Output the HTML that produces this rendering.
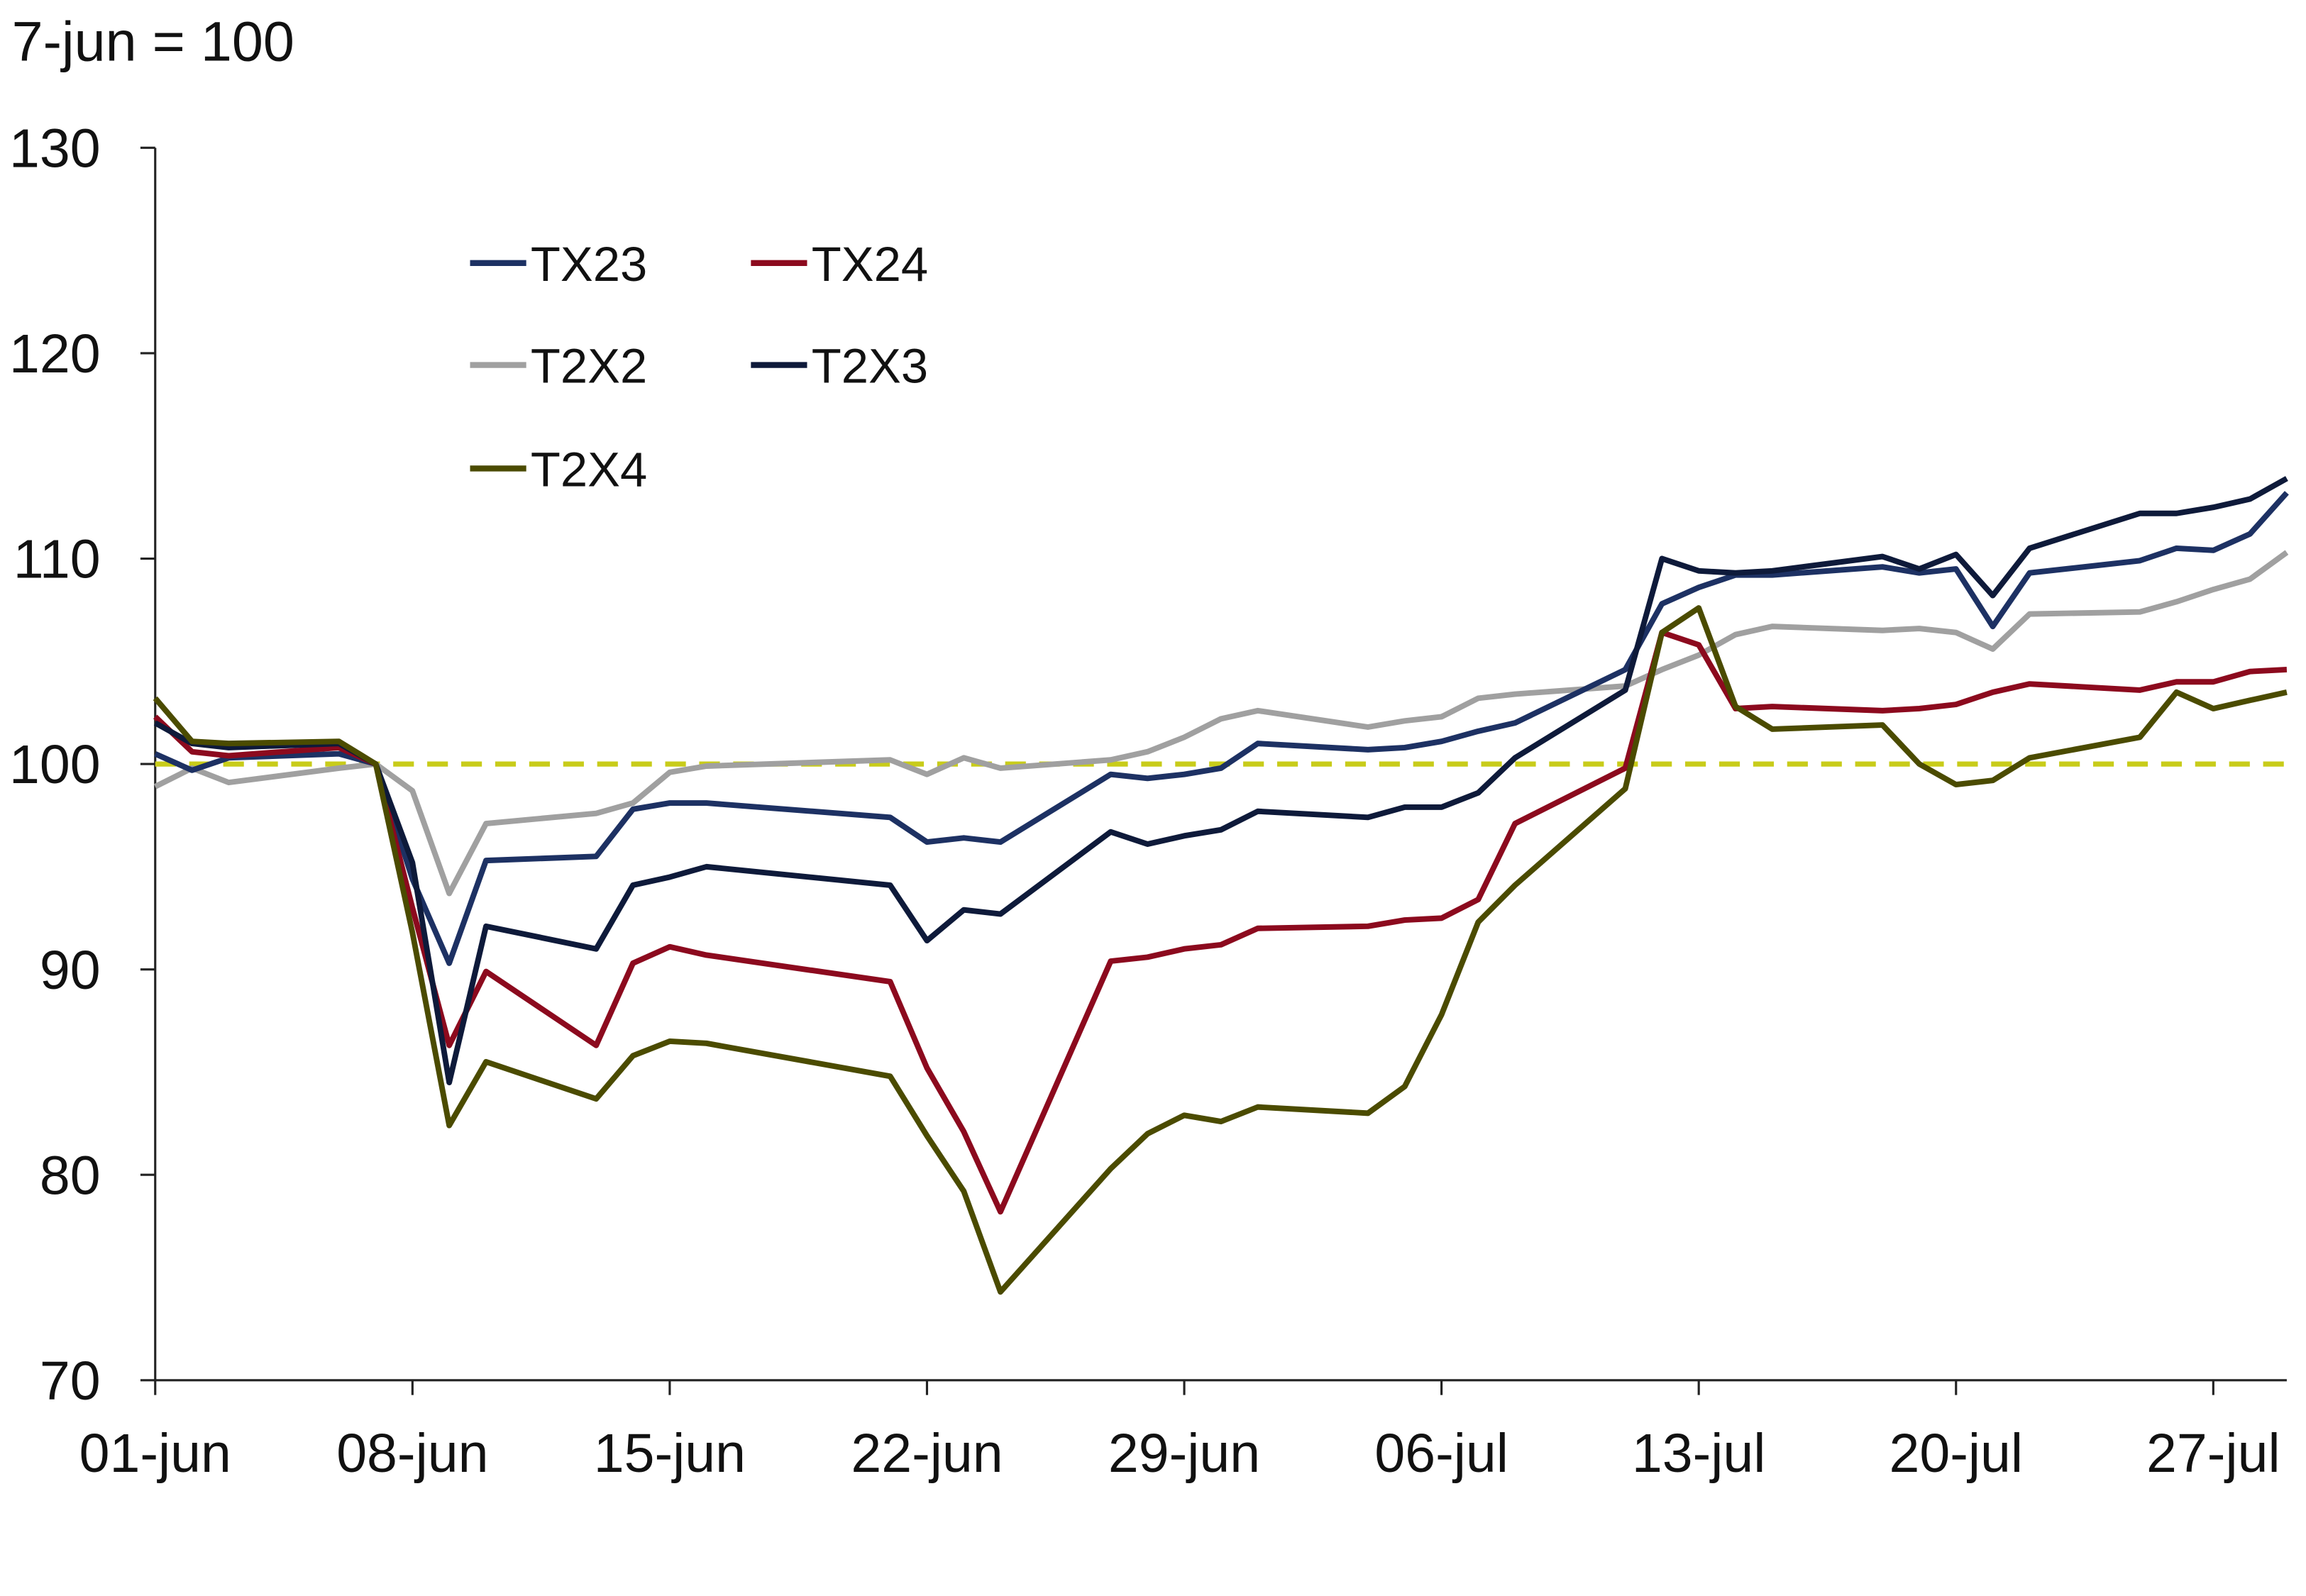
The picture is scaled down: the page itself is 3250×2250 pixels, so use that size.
<!DOCTYPE html>
<html><head><meta charset="utf-8"><style>
html,body{margin:0;padding:0;background:#fff;}
svg{display:block;}
text{font-family:"Liberation Sans",sans-serif;fill:#111;}
</style></head><body>
<svg id="chart" width="3250" height="2250" viewBox="0 0 1560 1080" xmlns="http://www.w3.org/2000/svg">
<rect width="1560" height="1080" fill="#fff"/>
<text x="8" y="41" font-size="38">7-jun = 100</text>
<g id="axes"></g>
<g id="series"></g>
<g id="legend"></g>
</svg>
<script>
const dayOffsets=[0,1,2,5,6,7,8,9,12,13,14,15,20,21,22,23,26,27,28,29,30,33,34,35,36,37,40,41,42,43,44,47,48,49,50,51,54,55,56,57,58];
const yTicks=[70,80,90,100,110,120,130];
const xTickDays=[0,7,14,21,28,35,42,49,56];
const xTickLabels=["01-jun","08-jun","15-jun","22-jun","29-jun","06-jul","13-jul","20-jul","27-jul"];
const seriesNames=["TX23","TX24","T2X2","T2X3","T2X4"];
const tx23=[100.5,99.7,100.3,100.5,100,94.4,90.3,95.3,95.5,97.8,98.1,98.1,97.4,96.2,96.4,96.2,99.5,99.3,99.5,99.8,101,100.7,100.8,101.1,101.6,102,104.6,107.8,108.6,109.2,109.2,109.6,109.3,109.5,106.7,109.3,109.9,110.5,110.4,111.2,113.2];
const tx24=[102.3,100.6,100.4,100.8,100,93,86.3,89.9,86.3,90.3,91.1,90.7,89.4,85.2,82.1,78.2,90.4,90.6,91,91.2,92,92.1,92.4,92.5,93.4,97.1,99.8,106.4,105.8,102.7,102.8,102.6,102.7,102.9,103.5,103.9,103.6,104,104,104.5,104.6];
const t2x2=[98.9,99.8,99.1,99.8,100,98.7,93.7,97.1,97.6,98.1,99.6,99.9,100.2,99.5,100.3,99.8,100.2,100.6,101.3,102.2,102.6,101.8,102.1,102.3,103.2,103.4,103.8,104.6,105.3,106.3,106.7,106.5,106.6,106.4,105.6,107.3,107.4,107.9,108.5,109,110.3];
const t2x3=[102,101,100.8,101,100,95.2,84.5,92.1,91,94.1,94.5,95,94.1,91.4,92.9,92.7,96.7,96.1,96.5,96.8,97.7,97.4,97.9,97.9,98.6,100.3,103.6,110,109.4,109.3,109.4,110.1,109.5,110.2,108.2,110.5,112.2,112.2,112.5,112.9,113.9];
const t2x4=[103.2,101.1,101,101.1,100,91.8,82.4,85.5,83.7,85.8,86.5,86.4,84.8,81.9,79.2,74.3,80.3,82,82.9,82.6,83.3,83,84.3,87.8,92.3,94.1,98.8,106.4,107.6,102.8,101.7,101.9,100,99,99.2,100.3,101.3,103.5,102.7,103.1,103.5];
const refValue=100;

const NS="http://www.w3.org/2000/svg";
const X0=105,X1=1547,Y0=934,Y1=100,DMAX=58,VMIN=70,VMAX=130;
function xs(d){return X0+(X1-X0)*d/DMAX;}
function ys(v){return Y0-(Y0-Y1)*(v-VMIN)/(VMAX-VMIN);}
function mk(tag,attrs,parent){const e=document.createElementNS(NS,tag);for(const k in attrs)e.setAttribute(k,attrs[k]);parent.appendChild(e);return e;}
const axes=document.getElementById('axes');
let yAxis=mk('line',{x1:X0,y1:Y1,x2:X0,y2:Y0,stroke:'#222','stroke-width':1.5},axes);


let xAxis=mk('line',{x1:X0,y1:Y0,x2:X1,y2:Y0,stroke:'#222','stroke-width':1.5},axes);


yTicks.forEach(v=>{
  const t=mk('line',{x1:X0-10,y1:ys(v),x2:X0,y2:ys(v),stroke:'#222','stroke-width':1.5},axes);
  
  
  const l=mk('text',{x:68,y:ys(v)+13,'font-size':37,'text-anchor':'end'},axes);
  l.textContent=v;
  
  
});
xTickDays.forEach((d,i)=>{
  const t=mk('line',{x1:xs(d),y1:Y0,x2:xs(d),y2:Y0+10,stroke:'#222','stroke-width':1.5},axes);
  
  
  const l=mk('text',{x:xs(d),y:996,'font-size':37,'text-anchor':'middle'},axes);
  l.textContent=xTickLabels[i];
  
  
});
const sg=document.getElementById('series');
const ref=mk('line',{x1:X0,y1:ys(refValue),x2:X1,y2:ys(refValue),stroke:'#c8cc1a','stroke-width':3.5,'stroke-dasharray':'14,9'},sg);


const colors=["#1d3163","#8c0a1e","#a0a0a0","#0e1a3a","#4b4b00"];
const data=[tx23,tx24,t2x2,t2x3,t2x4];
const order=[2,0,1,3,4];
order.forEach(i=>{
  const pts=data[i].map((v,j)=>xs(dayOffsets[j]).toFixed(1)+','+ys(v).toFixed(1)).join(' ');
  const p=mk('polyline',{points:pts,fill:'none',stroke:colors[i],'stroke-width':3.8,'stroke-linejoin':'round'},sg);
  
  
});
const lg=document.getElementById('legend');
const lpos=[[318,178],[508,178],[318,247],[508,247],[318,317]];
seriesNames.forEach((n,i)=>{
  const g=mk('g',{},lg);
  
  
  mk('line',{x1:lpos[i][0],y1:lpos[i][1],x2:lpos[i][0]+38,y2:lpos[i][1],stroke:colors[i],'stroke-width':4},g);
  const t=mk('text',{x:lpos[i][0]+41,y:lpos[i][1]+12,'font-size':33},g);
  t.textContent=n;
});
</script>
</body></html>
